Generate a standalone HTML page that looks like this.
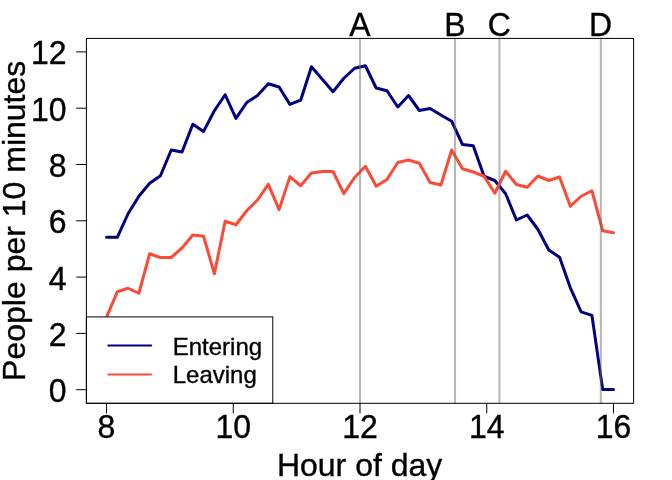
<!DOCTYPE html>
<html><head><meta charset="utf-8"><title>Hour of day</title>
<style>
html,body{margin:0;padding:0;background:#fff;}
body{width:672px;height:480px;overflow:hidden;}
svg{display:block;}
text{font-family:"Liberation Sans",Arial,Helvetica,sans-serif;fill:#000;}
</style></head><body>
<svg width="672" height="480" viewBox="0 0 672 480">
<rect x="0" y="0" width="672" height="480" fill="#fff"/>
<polyline fill="none" stroke="#000080" stroke-width="3" stroke-linejoin="round" stroke-linecap="round" points="106.50,237.30 117.29,237.30 128.07,213.75 138.86,196.25 149.65,183.25 160.44,175.75 171.22,150.00 182.01,152.00 192.80,124.25 203.59,131.40 214.37,110.75 225.16,94.75 235.95,118.40 246.73,102.50 257.52,95.50 268.31,83.75 279.10,87.00 289.88,104.40 300.67,100.20 311.46,66.80 322.24,79.25 333.03,91.70 343.82,78.25 354.61,68.25 365.39,65.75 376.18,88.00 386.97,90.75 397.76,107.00 408.54,95.50 419.33,110.50 430.12,108.50 440.90,115.00 451.69,121.25 462.48,144.50 473.27,145.75 484.05,176.25 494.84,180.50 505.63,193.75 516.41,220.00 527.20,215.00 537.99,229.50 548.78,250.00 559.56,257.25 570.35,287.80 581.14,311.90 591.93,315.40 602.71,389.60 613.50,389.60"/>
<polyline fill="none" stroke="#fd4a36" stroke-width="3" stroke-linejoin="round" stroke-linecap="round" points="106.50,317.40 117.29,291.75 128.07,288.25 138.86,293.25 149.65,253.75 160.44,257.50 171.22,257.50 182.01,248.00 192.80,235.00 203.59,236.25 214.37,273.80 225.16,221.25 235.95,224.75 246.73,210.75 257.52,200.00 268.31,184.30 279.10,209.60 289.88,176.60 300.67,185.75 311.46,173.00 322.24,171.50 333.03,171.50 343.82,193.70 354.61,177.50 365.39,166.30 376.18,186.20 386.97,179.50 397.76,162.50 408.54,160.00 419.33,163.25 430.12,182.50 440.90,185.00 451.69,150.00 462.48,168.75 473.27,172.00 484.05,176.25 494.84,193.25 505.63,171.25 516.41,184.50 527.20,187.25 537.99,176.00 548.78,180.50 559.56,177.00 570.35,206.25 581.14,196.25 591.93,190.75 602.71,230.75 613.50,232.75"/>
<line x1="360.00" y1="38.40" x2="360.00" y2="403.30" stroke="rgb(110,110,110)" stroke-opacity="0.5" stroke-width="2"/>
<line x1="455.06" y1="38.40" x2="455.06" y2="403.30" stroke="rgb(110,110,110)" stroke-opacity="0.5" stroke-width="2"/>
<line x1="499.42" y1="38.40" x2="499.42" y2="403.30" stroke="rgb(110,110,110)" stroke-opacity="0.5" stroke-width="2"/>
<line x1="600.83" y1="38.40" x2="600.83" y2="403.30" stroke="rgb(110,110,110)" stroke-opacity="0.5" stroke-width="2"/>
<rect x="86.40" y="316.9" width="186.40" height="86.40" fill="#fff" stroke="#000" stroke-width="1"/>
<line x1="108.3" y1="345.5" x2="151.2" y2="345.5" stroke="#000080" stroke-width="2" stroke-linecap="round"/>
<line x1="108.3" y1="374.4" x2="151.2" y2="374.4" stroke="#fd4a36" stroke-width="2" stroke-linecap="round"/>
<text transform="translate(172.70,354.60)" font-size="24" text-anchor="start" stroke="#000" stroke-width="0.35">Entering</text>
<text transform="translate(172.70,382.80)" font-size="24" text-anchor="start" stroke="#000" stroke-width="0.35">Leaving</text>
<rect x="86.40" y="38.40" width="547.20" height="364.90" fill="none" stroke="#000" stroke-width="1"/>
<line x1="106.50" y1="403.30" x2="106.50" y2="413.40" stroke="#000" stroke-width="1"/>
<text transform="translate(106.50,438.00) scale(1,1.02)" font-size="32" text-anchor="middle" stroke="#000" stroke-width="0.35">8</text>
<line x1="233.25" y1="403.30" x2="233.25" y2="413.40" stroke="#000" stroke-width="1"/>
<text transform="translate(233.25,438.00) scale(1,1.02)" font-size="32" text-anchor="middle" stroke="#000" stroke-width="0.35">10</text>
<line x1="360.00" y1="403.30" x2="360.00" y2="413.40" stroke="#000" stroke-width="1"/>
<text transform="translate(360.00,438.00) scale(1,1.02)" font-size="32" text-anchor="middle" stroke="#000" stroke-width="0.35">12</text>
<line x1="486.75" y1="403.30" x2="486.75" y2="413.40" stroke="#000" stroke-width="1"/>
<text transform="translate(486.75,438.00) scale(1,1.02)" font-size="32" text-anchor="middle" stroke="#000" stroke-width="0.35">14</text>
<line x1="613.50" y1="403.30" x2="613.50" y2="413.40" stroke="#000" stroke-width="1"/>
<text transform="translate(613.50,438.00) scale(1,1.02)" font-size="32" text-anchor="middle" stroke="#000" stroke-width="0.35">16</text>
<line x1="76.20" y1="389.70" x2="86.40" y2="389.70" stroke="#000" stroke-width="1"/>
<text transform="translate(66.50,402.10) scale(1,1.02)" font-size="32" text-anchor="end" stroke="#000" stroke-width="0.35">0</text>
<line x1="76.20" y1="333.40" x2="86.40" y2="333.40" stroke="#000" stroke-width="1"/>
<text transform="translate(66.50,345.80) scale(1,1.02)" font-size="32" text-anchor="end" stroke="#000" stroke-width="0.35">2</text>
<line x1="76.20" y1="277.10" x2="86.40" y2="277.10" stroke="#000" stroke-width="1"/>
<text transform="translate(66.50,289.50) scale(1,1.02)" font-size="32" text-anchor="end" stroke="#000" stroke-width="0.35">4</text>
<line x1="76.20" y1="220.80" x2="86.40" y2="220.80" stroke="#000" stroke-width="1"/>
<text transform="translate(66.50,233.20) scale(1,1.02)" font-size="32" text-anchor="end" stroke="#000" stroke-width="0.35">6</text>
<line x1="76.20" y1="164.50" x2="86.40" y2="164.50" stroke="#000" stroke-width="1"/>
<text transform="translate(66.50,176.90) scale(1,1.02)" font-size="32" text-anchor="end" stroke="#000" stroke-width="0.35">8</text>
<line x1="76.20" y1="108.20" x2="86.40" y2="108.20" stroke="#000" stroke-width="1"/>
<text transform="translate(66.50,120.60) scale(1,1.02)" font-size="32" text-anchor="end" stroke="#000" stroke-width="0.35">10</text>
<line x1="76.20" y1="51.90" x2="86.40" y2="51.90" stroke="#000" stroke-width="1"/>
<text transform="translate(66.50,64.30) scale(1,1.02)" font-size="32" text-anchor="end" stroke="#000" stroke-width="0.35">12</text>
<text transform="translate(359.80,35.50) scale(1,1.025)" font-size="32" text-anchor="middle" stroke="#000" stroke-width="0.35">A</text>
<text transform="translate(454.86,35.50) scale(1,1.025)" font-size="32" text-anchor="middle" stroke="#000" stroke-width="0.35">B</text>
<text transform="translate(499.22,35.50) scale(1,1.025)" font-size="32" text-anchor="middle" stroke="#000" stroke-width="0.35">C</text>
<text transform="translate(600.62,35.50) scale(1,1.025)" font-size="32" text-anchor="middle" stroke="#000" stroke-width="0.35">D</text>
<text transform="translate(359.60,476.40)" font-size="32" text-anchor="middle" stroke="#000" stroke-width="0.35">Hour of day</text>
<text transform="translate(24.80,220.80) rotate(-90)" font-size="32" text-anchor="middle" stroke="#000" stroke-width="0.35">People per 10 minutes</text>
</svg></body></html>
